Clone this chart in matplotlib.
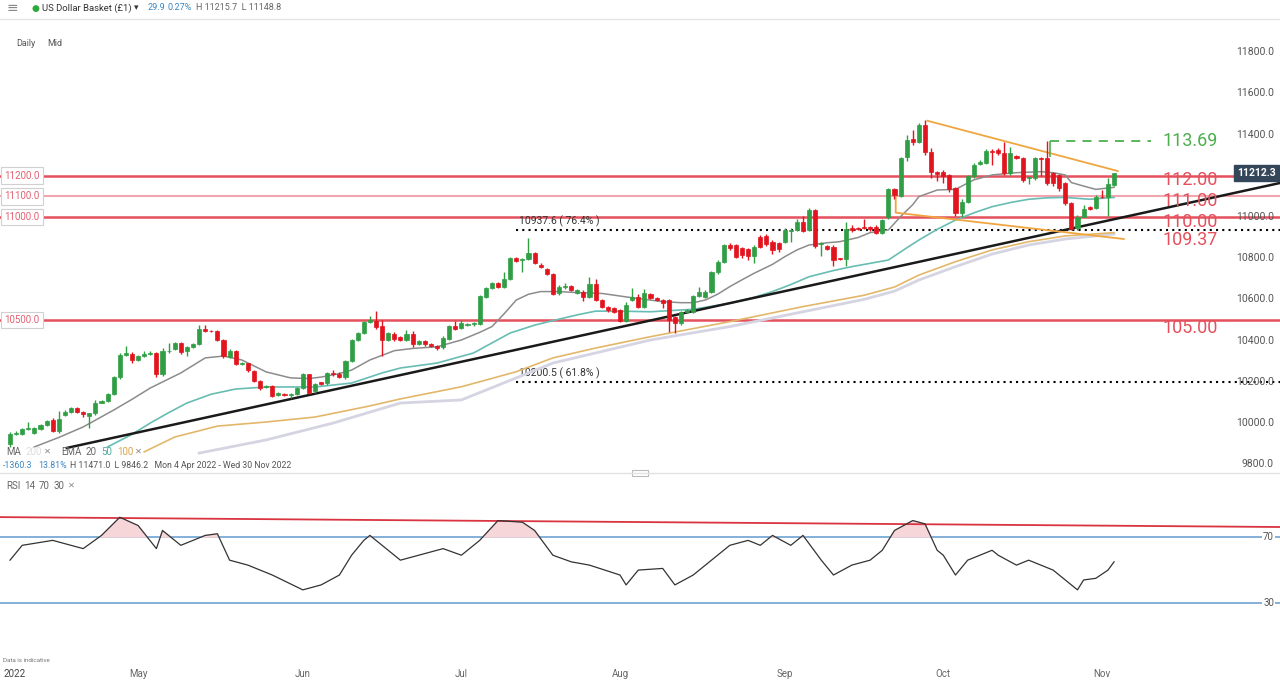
import matplotlib.pyplot as plt
import numpy as np
import pandas as pd
from matplotlib.transforms import blended_transform_factory

plt.rcParams['font.family'] = ['Roboto', 'DejaVu Sans']

W, H = 1280, 680

# candles: one per day, Saturdays skipped (IG daily chart)
dates = pd.date_range('2022-04-06', '2022-11-03')
dates = dates[dates.dayofweek != 5]

opens = [9896, 9945, 9948, 9969, 9953, 9973, 9990, 10013, 9961, 10038,
         10055, 10072, 10052, 10034, 10047, 10099, 10107, 10140, 10221, 10331,
         10335, 10305, 10326, 10335, 10338, 10237, 10348, 10359, 10386, 10348,
         10370, 10383, 10456, 10448, 10448, 10403, 10322, 10348, 10286, 10289,
         10253, 10205, 10175, 10180, 10135, 10143, 10137, 10140, 10169, 10237,
         10153, 10197, 10192, 10245, 10240, 10224, 10299, 10403, 10435, 10489,
         10497, 10472, 10403, 10432, 10416, 10403, 10432, 10383, 10400, 10383,
         10375, 10367, 10408, 10472, 10461, 10477, 10481, 10481, 10614, 10656,
         10679, 10662, 10700, 10800, 10789, 10795, 10826, 10769, 10748, 10724,
         10629, 10658, 10665, 10633, 10638, 10613, 10675, 10597, 10565, 10557,
         10549, 10497, 10597, 10613, 10565, 10625, 10608, 10597, 10597, 10516,
         10484, 10540, 10540, 10617, 10613, 10638, 10731, 10783, 10864, 10864,
         10848, 10843, 10811, 10905, 10908, 10880, 10875, 10880, 10934, 10937,
         10977, 10937, 11034, 10867, 10859, 10856, 10799, 10795, 10945, 10945,
         10950, 10950, 10953, 10924, 10998, 11134, 11102, 11290, 11377, 11366,
         11447, 11317, 11220, 11220, 11204, 11139, 11021, 11074, 11199, 11257,
         11260, 11322, 11325, 11312, 11212, 11296, 11285, 11188, 11188, 11285,
         11285, 11212, 11204, 11163, 11066, 10945, 11002, 11047, 11042, 11099,
         11095, 11155]
highs = [9955, 9960, 9978, 10007, 9982, 9995, 10016, 10025, 10059, 10062,
         10080, 10080, 10058, 10050, 10110, 10112, 10148, 10230, 10340, 10375,
         10345, 10332, 10350, 10350, 10345, 10365, 10388, 10392, 10392, 10375,
         10390, 10475, 10478, 10452, 10452, 10410, 10360, 10352, 10295, 10293,
         10258, 10210, 10186, 10186, 10152, 10147, 10145, 10175, 10245, 10240,
         10192, 10200, 10250, 10255, 10248, 10305, 10410, 10442, 10495, 10520,
         10545, 10500, 10440, 10440, 10420, 10452, 10448, 10405, 10405, 10388,
         10380, 10420, 10478, 10495, 10500, 10485, 10490, 10622, 10662, 10685,
         10685, 10735, 10805, 10808, 10800, 10900, 10830, 10775, 10752, 10728,
         10668, 10680, 10672, 10652, 10645, 10710, 10700, 10603, 10570, 10562,
         10553, 10585, 10654, 10625, 10650, 10630, 10612, 10602, 10602, 10520,
         10546, 10555, 10622, 10660, 10645, 10738, 10790, 10870, 10872, 10870,
         10855, 10848, 10862, 10912, 10915, 10888, 10880, 10945, 10945, 10990,
         11005, 11045, 11040, 10880, 10865, 10862, 10803, 10975, 10960, 10950,
         10990, 10958, 10960, 10990, 11140, 11140, 11292, 11400, 11420, 11455,
         11471, 11335, 11225, 11230, 11210, 11145, 11085, 11205, 11260, 11275,
         11330, 11330, 11335, 11366, 11340, 11300, 11290, 11200, 11290, 11290,
         11369, 11220, 11210, 11170, 11075, 11010, 11060, 11052, 11105, 11131,
         11190, 11215.7]
lows = [9885, 9940, 9943, 9965, 9948, 9968, 9985, 9955, 9950, 10033,
        10050, 10048, 10030, 9977, 10040, 10095, 10100, 10135, 10215, 10325,
        10290, 10300, 10320, 10328, 10225, 10230, 10340, 10355, 10335, 10326,
        10365, 10378, 10440, 10440, 10398, 10318, 10315, 10280, 10280, 10250,
        10200, 10160, 10170, 10128, 10130, 10133, 10120, 10135, 10165, 10142,
        10148, 10185, 10185, 10230, 10218, 10215, 10295, 10398, 10430, 10485,
        10458, 10326, 10398, 10400, 10398, 10398, 10370, 10378, 10375, 10368,
        10355, 10360, 10403, 10450, 10455, 10470, 10470, 10475, 10608, 10650,
        10655, 10655, 10695, 10780, 10735, 10790, 10770, 10750, 10718, 10620,
        10620, 10650, 10640, 10625, 10590, 10605, 10590, 10560, 10540, 10535,
        10490, 10492, 10590, 10560, 10560, 10600, 10592, 10560, 10443, 10435,
        10478, 10535, 10535, 10612, 10605, 10632, 10725, 10778, 10842, 10800,
        10800, 10790, 10775, 10850, 10860, 10820, 10830, 10875, 10880, 10930,
        10925, 10930, 10850, 10810, 10838, 10760, 10790, 10760, 10925, 10935,
        10940, 10930, 10918, 10918, 10990, 11085, 11095, 11270, 11350, 11360,
        11300, 11190, 11175, 11165, 11120, 11005, 11002, 11068, 11190, 11250,
        11255, 11250, 11300, 11205, 11205, 11280, 11170, 11160, 11180, 11200,
        11155, 11150, 11125, 11060, 10935, 10937, 10998, 11035, 11037, 11090,
        11005, 11148.8]
closes = [9945, 9953, 9973, 9977, 9977, 9989, 10010, 9961, 10018, 10055,
          10075, 10055, 10042, 10047, 10099, 10107, 10140, 10221, 10331, 10338,
          10305, 10326, 10335, 10338, 10237, 10351, 10351, 10386, 10343, 10370,
          10383, 10456, 10448, 10445, 10403, 10326, 10348, 10286, 10289, 10257,
          10205, 10172, 10180, 10132, 10148, 10137, 10140, 10169, 10237, 10148,
          10188, 10188, 10245, 10237, 10224, 10299, 10403, 10435, 10489, 10500,
          10464, 10403, 10435, 10408, 10403, 10432, 10383, 10400, 10383, 10372,
          10364, 10412, 10472, 10456, 10484, 10479, 10483, 10615, 10656, 10679,
          10659, 10700, 10800, 10786, 10795, 10826, 10776, 10757, 10724, 10627,
          10662, 10665, 10646, 10646, 10613, 10675, 10597, 10565, 10549, 10540,
          10497, 10573, 10613, 10565, 10633, 10605, 10597, 10581, 10500, 10484,
          10540, 10549, 10617, 10638, 10638, 10731, 10783, 10864, 10848, 10807,
          10816, 10811, 10856, 10856, 10867, 10840, 10843, 10937, 10937, 10977,
          10934, 11034, 10859, 10875, 10843, 10791, 10795, 10940, 10937, 10942,
          10947, 10940, 10924, 10985, 11134, 11107, 11285, 11374, 11366, 11447,
          11317, 11220, 11209, 11199, 11134, 11021, 11074, 11199, 11252, 11269,
          11322, 11317, 11312, 11212, 11309, 11285, 11180, 11196, 11285, 11282,
          11163, 11167, 11139, 11066, 10940, 11002, 11037, 11040, 11099, 11095,
          11160, 11212.3]

# moving averages (candle index, price)
sma20_i = [4, 8, 12, 17, 20, 23, 28, 32, 35, 38, 42, 46, 49, 51, 54, 56, 59, 63, 66,
           70, 74, 77, 79, 81, 83, 85, 87, 90, 93, 97, 102, 107, 110, 112, 114, 116,
           118, 120, 122, 125, 127, 129, 131, 134, 136, 139, 141, 144, 146, 148, 149,
           151, 152, 155, 158, 161, 165, 169, 171, 173, 174, 176, 178, 181]
sma20_v = [9884, 9930, 9981, 10063, 10115, 10170, 10243, 10316, 10325, 10306, 10248,
           10219, 10216, 10223, 10240, 10257, 10306, 10351, 10362, 10370, 10403, 10440,
           10468, 10530, 10597, 10625, 10638, 10638, 10633, 10629, 10608, 10589, 10584,
           10584, 10597, 10625, 10662, 10695, 10727, 10770, 10807, 10840, 10864, 10875,
           10880, 10900, 10924, 10937, 11002, 11060, 11099, 11120, 11131, 11134, 11180,
           11204, 11215, 11220, 11215, 11204, 11167, 11150, 11134, 11144]
ema50_i = [16, 20, 23, 26, 29, 33, 37, 42, 46, 50, 56, 61, 64, 70, 76, 82, 86, 89, 93,
           96, 100, 105, 112, 118, 122, 125, 128, 131, 135, 138, 141, 144, 147, 149,
           152, 155, 158, 161, 164, 167, 170, 173, 177, 181]
ema50_v = [9884, 9945, 10000, 10050, 10097, 10140, 10165, 10175, 10175, 10175, 10194,
           10243, 10267, 10291, 10340, 10437, 10475, 10497, 10525, 10543, 10543, 10540,
           10552, 10581, 10610, 10638, 10672, 10710, 10740, 10759, 10775, 10791, 10850,
           10888, 10940, 10985, 11020, 11050, 11070, 11086, 11093, 11095, 11086, 11095]
ema100_i = [22, 27, 34, 42, 50, 59, 64, 74, 83, 89, 96, 105, 118, 130, 140, 145, 149,
            155, 161, 167, 173, 181]
ema100_v = [9860, 9932, 9985, 10005, 10029, 10083, 10117, 10176, 10249, 10316, 10364,
            10419, 10492, 10565, 10620, 10660, 10718, 10783, 10840, 10880, 10908, 10924]
ma200_i = [31, 42, 53, 64, 74, 83, 89, 105, 118, 130, 140, 145, 149, 155, 161, 167,
           173, 181]
ma200_v = [9854, 9918, 10000, 10097, 10112, 10219, 10291, 10403, 10468, 10540, 10600,
           10640, 10694, 10759, 10820, 10864, 10893, 10917]

# RSI 14
rsi_i = [0, 2, 7, 12, 15, 18, 21, 24, 25, 28, 32, 34, 36, 39, 43, 48, 51, 54, 56, 58,
         59, 62, 64, 67, 71, 74, 77, 80, 84, 86, 89, 92, 95, 100, 101, 103, 107, 109,
         112, 115, 118, 121, 123, 125, 128, 130, 133, 135, 138, 141, 143, 145, 148,
         150, 152, 153, 155, 157, 159, 161, 162, 165, 167, 171, 173, 175, 176, 178,
         180, 181]
rsi_v = [56, 65, 68, 63, 71, 82, 77, 63, 74, 65, 71, 72, 56, 53, 47, 38, 41, 47, 59, 68,
         71, 62, 56, 59, 63, 59, 68, 80, 79, 74, 59, 55, 53, 47, 41, 50, 51, 41, 47, 56,
         65, 68, 65, 71, 65, 71, 56, 47, 53, 56, 62, 74, 80, 78, 62, 59, 47, 56, 59, 62,
         59, 53, 56, 50, 44, 38, 44, 45, 50, 55]

# drawn levels and trend lines
levels_red = [11200, 11000, 10500]
level_pink = 11100
level_tags = ['11200.0', '11100.0', '11000.0', '10500.0']
level_tag_vals = [11200, 11100, 11000, 10500]
right_labels = ['112.00', '111.00', '110.00', '109.37', '105.00']
right_label_vals = [11178, 11078, 10975, 10890, 10460]
fib_vals = [10937.6, 10200.5]
fib_texts = ['10937.6 ( 76.4% )', '10200.5 ( 61.8% )']
fib_start = 83
target_val = 11369
target_start = 170.5
trend_x = [9.3, 208.2]
trend_y = [9879, 11165]
wedge_top_x = [150.4, 181.6]
wedge_top_y = [11467, 11223]
wedge_bot_x = [145.2, 145.2, 182.6]
wedge_bot_y = [11131, 11021, 10893]
rsi_line_x = [-1.64, 208.2]
rsi_line_y = [82.1, 76.1]
price_ticks = [9800, 10000, 10200, 10400, 10600, 10800, 11000, 11400, 11600, 11800]
last_price = 11212.3

RED = '#e4505c'
GREEN = '#2f9e44'
CRED = '#e2141e'


def fx(x):
    return x / W


def fy(y):
    return 1 - y / H


fig = plt.figure(figsize=(12.8, 6.8), dpi=100)
ax = fig.add_axes([0, fy(470), 1, 450 / H])
ax2 = fig.add_axes([0, fy(660), 1, 182 / H])

n = len(closes)
idx = np.arange(n)
o = np.array(opens)
c = np.array(closes)
up = c >= o
cols = np.where(up, GREEN, CRED)

xl = (-1.64, 208.2)
for a in (ax, ax2):
    a.set_xlim(*xl)
    a.set_xticks([])
    a.set_yticks([])
    for s in a.spines.values():
        s.set_visible(False)
ax.set_ylim(9772, 11956)
ax2.set_ylim(-4.5, 105.8)

# horizontal levels
for v in levels_red:
    ax.axhline(v, color=RED, lw=1.8, zorder=2)
ax.axhline(level_pink, color='#f2a5ae', lw=1.5, zorder=2)
for v in fib_vals:
    ax.hlines(v, fib_start, xl[1], colors='black', lw=1.5, linestyles=(0, (1, 2)), zorder=2)
for v, t in zip(fib_vals, fib_texts):
    ax.text(fib_start + 0.5, v + 12, t, fontsize=7.5, color='#333333', va='bottom', ha='left')

# moving averages
ax.plot(ma200_i, ma200_v, color='#d4d4e2', lw=2, zorder=3)
ax.plot(ema100_i, ema100_v, color='#e3b76a', lw=1.2, zorder=3)
ax.plot(ema50_i, ema50_v, color='#67bdb3', lw=1.2, zorder=3)
ax.plot(sma20_i, sma20_v, color='#8c8c8c', lw=1.1, zorder=3)

# trend lines
ax.plot(trend_x, trend_y, color='#1a1a1a', lw=1.8, zorder=4)
ax.plot(wedge_top_x, wedge_top_y, color='#f0a640', lw=1.3, zorder=4)
ax.plot(wedge_bot_x, wedge_bot_y, color='#f0a640', lw=1.3, zorder=4)
ax.hlines(target_val, target_start, 187, colors='#4caf50', lw=1.3, linestyles=(0, (5, 4)), zorder=4)
ax.vlines(target_start, target_val - 80, target_val, colors='#4caf50', lw=1.2, zorder=4)

# candles
ax.vlines(idx, lows, highs, colors=cols, lw=1, zorder=5)
body = np.maximum(np.abs(c - o), 3)
ax.bar(idx, body, bottom=np.minimum(o, c), width=0.68, color=cols, edgecolor=cols,
       lw=0.5, zorder=6)

# price axis labels
tr = blended_transform_factory(ax.transAxes, ax.transData)
for v in price_ticks:
    ax.text(1274 / W, v, f'{v:.1f}', transform=tr, ha='right', va='center',
            fontsize=7.5, color='#555555', zorder=7)
ax.text(1276 / W, last_price, f'{last_price:.1f}', transform=tr, ha='right', va='center',
        fontsize=7.5, color='white', fontweight='bold', zorder=8,
        bbox=dict(boxstyle='square,pad=0.3', fc='#34475a', ec='#34475a'))

# left level tags
for v, t in zip(level_tag_vals, level_tags):
    ax.text(4 / W, v, t, transform=tr, ha='left', va='center', fontsize=7,
            color='#e06070', zorder=8,
            bbox=dict(boxstyle='square,pad=0.35', fc='white', ec='#d0d0d0', lw=0.8))

# right level labels
for v, t in zip(right_label_vals, right_labels):
    ax.text(189, v, t, ha='left', va='center', fontsize=13, color=RED, zorder=8)
ax.text(189, target_val - 2, '113.69', ha='left', va='center', fontsize=13,
        color='#4cae4c', zorder=8)

# RSI panel
ax2.axhline(70, color='#7aaad6', lw=1.3)
ax2.axhline(30, color='#7aaad6', lw=1.3)
ax2.plot(rsi_i, rsi_v, color='#333333', lw=0.9, zorder=4)
ri = np.array(rsi_i)
rv = np.array(rsi_v)
ax2.fill_between(ri, 70, rv, where=rv > 70, interpolate=True, color='#f7d6da', zorder=2)
ax2.plot(rsi_line_x, rsi_line_y, color='#d9343f', lw=1.3, zorder=3)
tr2 = blended_transform_factory(ax2.transAxes, ax2.transData)
for v in (70, 30):
    ax2.text(1274 / W, v, str(v), transform=tr2, ha='right', va='center', fontsize=7,
             color='#555555', zorder=5, bbox=dict(boxstyle='square,pad=0.1', fc='white', ec='none'))

# header and panel texts
fig.text(fx(7), fy(8), '≡', fontsize=10, color='#888888', va='center')
fig.text(fx(32), fy(8), '●', fontsize=6.5, color='#2eaa3c', va='center')
fig.text(fx(42), fy(8), 'US Dollar Basket (£1)', fontsize=6.8, color='#333333', va='center')
fig.text(fx(134), fy(8), '▾', fontsize=6.5, color='#333333', va='center')
fig.text(fx(148), fy(8), '29.9', fontsize=6.5, color='#3a86c0', va='center')
fig.text(fx(168), fy(8), '0.27%', fontsize=6.5, color='#3a86c0', va='center')
fig.text(fx(196), fy(8), 'H 11215.7  L 11148.8', fontsize=6.5, color='#666666', va='center')
fig.add_artist(plt.Line2D([0, 1], [fy(19), fy(19)], color='#e4e4e4', lw=1))
fig.text(fx(16), fy(43), 'Daily', fontsize=6.5, color='#555555', va='center')
fig.text(fx(47), fy(43), 'Mid', fontsize=6.5, color='#555555', va='center')

fig.text(fx(6), fy(452), 'MA', fontsize=7, color='#666666', va='center')
fig.text(fx(26), fy(452), '200', fontsize=7, color='#dddddd', va='center')
fig.text(fx(44), fy(452), '✕', fontsize=6, color='#888888', va='center')
fig.text(fx(61), fy(452), 'EMA', fontsize=7, color='#666666', va='center')
fig.text(fx(85), fy(452), '20', fontsize=7, color='#666666', va='center')
fig.text(fx(101), fy(452), '50', fontsize=7, color='#4aa9a0', va='center')
fig.text(fx(117), fy(452), '100', fontsize=7, color='#d9a54a', va='center')
fig.text(fx(135), fy(452), '✕', fontsize=6, color='#888888', va='center')
fig.text(fx(3), fy(465), '-1360.3', fontsize=6.3, color='#3a86c0', va='center')
fig.text(fx(38), fy(465), '13.81%', fontsize=6.3, color='#3a86c0', va='center')
fig.text(fx(70), fy(465), 'H 11471.0  L 9846.2   Mon 4 Apr 2022 - Wed 30 Nov 2022',
         fontsize=6.3, color='#555555', va='center')
fig.add_artist(plt.Line2D([0, 1], [fy(473), fy(473)], color='#e2e2e2', lw=1))
fig.add_artist(plt.Rectangle((fx(632), fy(476)), 16 / W, 6 / H, fc='white', ec='#bbbbbb', lw=0.8))
fig.text(fx(6), fy(486), 'RSI', fontsize=7, color='#666666', va='center')
fig.text(fx(24), fy(486), '14', fontsize=7, color='#666666', va='center')
fig.text(fx(39), fy(486), '70', fontsize=7, color='#666666', va='center')
fig.text(fx(54), fy(486), '30', fontsize=7, color='#666666', va='center')
fig.text(fx(68), fy(486), '✕', fontsize=6, color='#888888', va='center')

fig.text(fx(3), fy(661), 'Data is indicative', fontsize=4.5, color='#777777', va='center')
fig.text(fx(3), fy(674), '2022', fontsize=7, color='#444444', va='center')
months = ['May', 'Jun', 'Jul', 'Aug', 'Sep', 'Oct', 'Nov']
for k, m in enumerate(months):
    first = int(np.argmax((dates.month == k + 5)))
    xpix = ax.transData.transform((first, 0))[0] / fig.dpi / fig.get_figwidth()
    fig.text(xpix, fy(674), m, fontsize=7, color='#666666', va='center', ha='center')

fig.savefig('out.png', dpi=100, facecolor='white')
